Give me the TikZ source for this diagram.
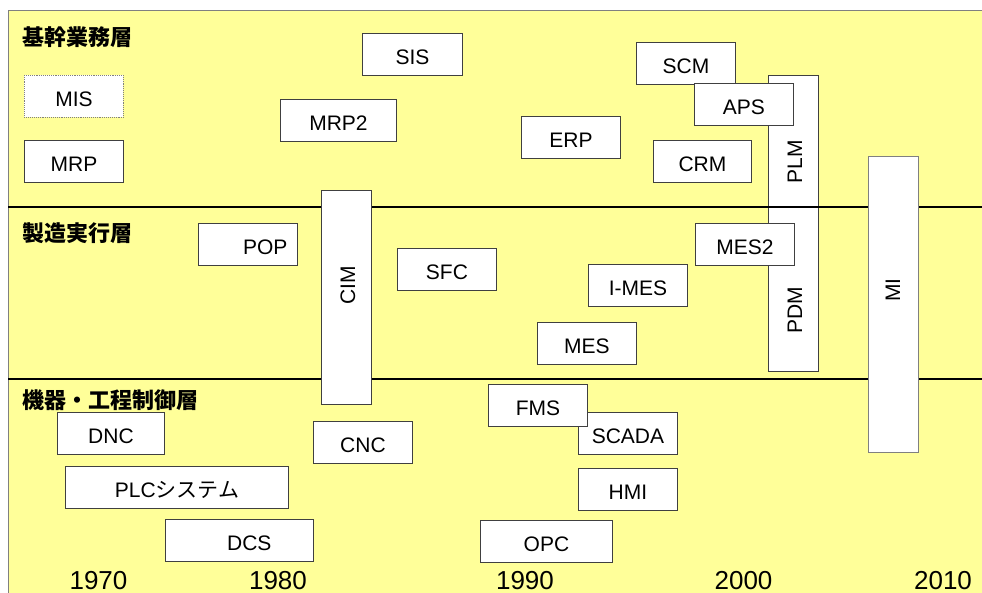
\documentclass[tikz,border=0pt]{standalone}
\usepackage{fontspec}
\setmainfont{Liberation Sans}
\newfontfamily\jpfont{Noto Sans CJK JP}
\usepackage{tikz}
\definecolor{paper}{HTML}{FFFF99}
\definecolor{frame}{HTML}{808080}
\definecolor{edge}{HTML}{404040}

\begin{document}
\begin{tikzpicture}[x=1pt,y=-1pt,
  sys/.style={draw=edge,fill=white,line width=0.9pt,anchor=north west,inner sep=0pt,
    minimum width=99pt,minimum height=42pt,font=\fontsize{21}{24}\selectfont,
    text height=21pt,text depth=0pt},
  tall/.style={draw=edge,fill=white,line width=0.9pt,anchor=north west,minimum width=50pt},
  vlabel/.style={rotate=90,inner sep=0pt,font=\fontsize{21}{24}\selectfont},
  layer/.style={anchor=west,inner sep=0pt,font=\jpfont\bfseries\fontsize{22}{26}\selectfont},
  year/.style={anchor=base,inner sep=0pt,font=\fontsize{26}{30}\selectfont}]
  \useasboundingbox (0,0) rectangle (982,593);
  % background and layer borders
  \fill[paper] (8,11) rectangle (982,593);
  \draw[frame,line width=1pt] (8,593) -- (8,11) -- (982,11);
  \node[tall,minimum height=296pt] (plmbox) at (768,75) {};
  \draw[line width=2pt] (8,207) -- (982,207);
  \draw[line width=2pt] (8,379) -- (982,379);
  \node[tall,minimum height=214pt] (cimbox) at (321,190) {};
  \node[tall,draw=frame,minimum height=296pt] (mibox) at (868,156) {};
  \node[vlabel] (plm) at (795,162) {PLM};
  \node[vlabel] (pdm) at (795,310) {PDM};
  \node[vlabel] (cim) at (348,285) {CIM};
  \node[vlabel] (mi) at (893,290) {MI};

  % layer names
  \node[layer] (core) at (22,37) {基幹業務層};
  \node[layer] (exec) at (22,233) {製造実行層};
  \node[layer] (ctrl) at (22,400) {機器・工程制御層};

  % core business layer
  \node[sys,draw=frame,densely dotted] (mis) at (24,75) {MIS};
  \node[sys] (mrp) at (24,140) {MRP};
  \node[sys,minimum width=116pt] (mrptwo) at (280,99) {MRP2};
  \node[sys,minimum width=100pt] (sis) at (362,33) {SIS};
  \node[sys] (erp) at (521,116) {ERP};
  \node[sys] (scm) at (636,42) {SCM};
  \node[sys] (aps) at (694,83) {APS};
  \node[sys,minimum width=98pt] (crm) at (653,140) {CRM};

  % execution layer
  \node[sys,text width=79pt,inner xsep=10pt,align=right] (pop) at (198,223) {POP};
  \node[sys] (sfc) at (397,248) {SFC};
  \node[sys] (imes) at (588,264) {I-MES};
  \node[sys] (mes) at (537,322) {MES};
  \node[sys] (mestwo) at (695,223) {MES2};

  % control layer
  \node[sys] (scada) at (578,412) {SCADA};
  \node[sys] (fms) at (488,384) {FMS};
  \node[sys] (hmi) at (578,468) {HMI};
  \node[sys,minimum width=132pt] (opc) at (480,520) {OPC};
  \node[sys] (cnc) at (313,421) {CNC};
  \node[sys,minimum width=107pt] (dnc) at (57,412) {DNC};
  \node[sys,minimum width=223pt] (plc) at (65,466) {PLC{\jpfont システム}};
  \node[sys,text width=64pt,inner xsep=42pt,align=right] (dcs) at (165,519) {DCS};

  % years
  \node[year] (y1970) at (98.5,589) {1970};
  \node[year] (y1980) at (278,589) {1980};
  \node[year] (y1990) at (525,589) {1990};
  \node[year] (y2000) at (743.5,589) {2000};
  \node[year] (y2010) at (943,589) {2010};
\end{tikzpicture}
\end{document}
